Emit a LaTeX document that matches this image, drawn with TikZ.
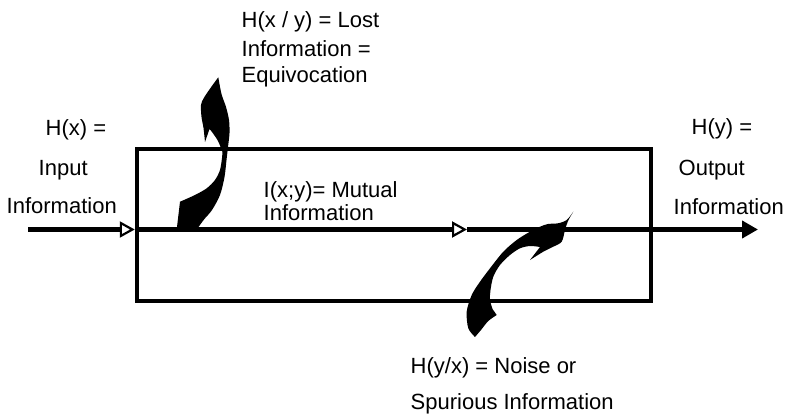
\documentclass[tikz,border=0pt]{standalone}
\usepackage{fontspec}
\setmainfont{Liberation Sans}
\usetikzlibrary{positioning,arrows.meta}

\begin{document}
\begin{tikzpicture}[
    x=1pt, y=-1pt,
    txt/.style={anchor=base west, inner sep=0pt, font=\fontsize{22}{26}\selectfont},
    channelbox/.style={draw, line width=4.5pt, minimum width=514pt, minimum height=152pt, inner sep=0pt},
    flow/.style={line width=5pt},
    openhead/.style={-{Triangle[length=15pt, width=16pt, fill=white, line width=2.2pt]}},
    fullhead/.style={-{Triangle[length=16pt, width=17pt]}},
    blob/.style={fill=black}
]
\useasboundingbox (0,0) rectangle (786,417);

% Channel
\node[channelbox] (channel) at (394,225) {};

% Main information flow
\coordinate (src) at (28,229.5);
\coordinate (in) at (channel.west |- src);
\coordinate (mid) at (467,229.5);
\coordinate (dst) at (758,229.5);
\draw[flow, openhead] (src) -- (in);
\draw[flow, openhead] (in) -- (mid);
\draw[flow, fullhead] (mid) -- (dst);

% Lost information leaving the channel
\fill[blob] (218.3,77.3)
  -- plot[smooth] coordinates {(218.3,77.3) (221.5,94) (226,107) (229,120) (229.5,133) (228,147) (226.5,160) (224.5,177) (220,195) (212,210) (204,219.5) (196.7,229.5)}
  -- (176.7,229.5) -- (180,201.7)
  -- plot[smooth] coordinates {(180,201.7) (195,195) (206.7,188.3) (215,180) (220,170) (222,158) (222.5,152)}
  -- plot[smooth] coordinates {(222.5,152) (218,141) (212,132) (209.5,129)}
  -- (205,142)
  -- plot[smooth] coordinates {(205,142) (203.5,128) (201.5,117) (201,105) (203.8,98) (211.2,87) (218.3,77.3)}
  -- cycle;

% Noise entering the channel
\fill[blob] (573.3,211.7)
  -- plot[smooth] coordinates {(573.3,211.7) (566.7,220) (558,223.3) (548,224) (540,226.7) (530,231.7) (516.7,240) (503.3,251.7) (490,268.3) (480,281.7) (471.7,295) (466.7,311.7) (468.3,328.3) (475,337)}
  -- plot[smooth] coordinates {(475,337) (481,330) (488.3,321) (496.7,315)}
  -- (492.5,309)
  -- plot[smooth] coordinates {(492.5,309) (490,300) (490.5,290) (493.3,276.7) (500,265) (510,255) (520,248.3) (530,246) (540,247)}
  -- (530,260)
  -- plot[smooth] coordinates {(530,260) (543.3,251.7) (553.3,246.7) (561.7,241.7) (565,230) (568,221) (573.3,211.7)}
  -- cycle;

% Labels
\node[txt] (lost1) at (241.5,28) {H(x / y) = Lost};
\node[txt] (lost2) at (241.5,56.5) {Information =};
\node[txt] (lost3) at (241.5,83) {Equivocation};

\node[txt] (hx) at (45.5,135.5) {H(x) =};
\node[txt] (in1) at (38.5,175) {Input};
\node[txt] (in2) at (6.5,213) {Information};

\node[txt] (hy) at (691.5,134.5) {H(y) =};
\node[txt] (out1) at (678.5,175) {Output};
\node[txt] (out2) at (673.5,214) {Information};

\node[txt] (mut1) at (263.5,197) {I(x;y)= Mutual};
\node[txt] (mut2) at (263.5,220) {Information};

\node[txt] (noise1) at (410.5,373) {H(y/x) = Noise or};
\node[txt] (noise2) at (410.5,409) {Spurious Information};
\end{tikzpicture}
\end{document}
